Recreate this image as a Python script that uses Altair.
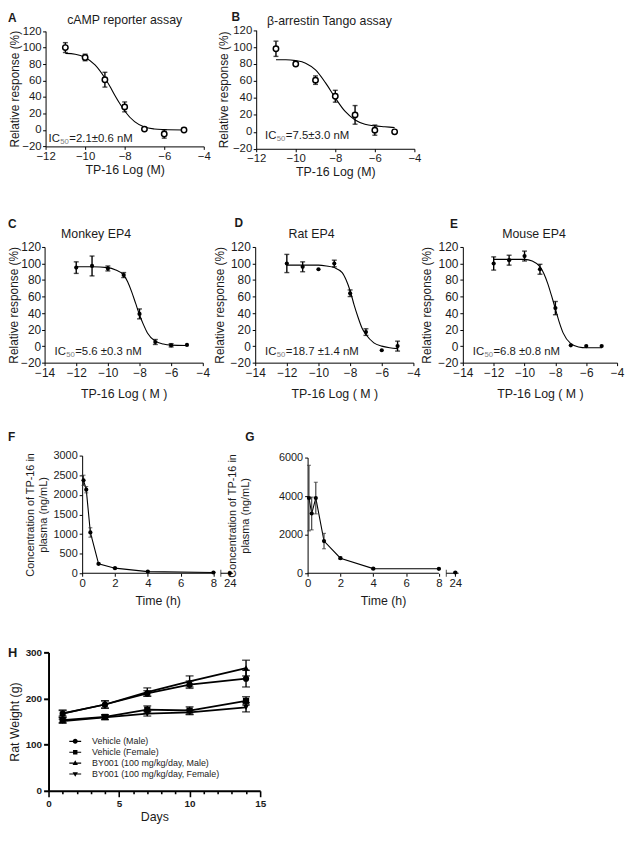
import altair as alt
import pandas as pd

FONT = "Liberation Sans"
INK = "#1b1b1b"

# ---------------- data ----------------
# A: cAMP reporter assay
A_LOG = [-11, -10, -9, -8, -7, -6, -5]
A_RESP = [100, 88, 61, 28, 1, -5, 0]
A_ERR = [6, 4, 9, 6, 1, 5, 1]
A_FIT_LOG = [-11, -10.5, -10, -9.5, -9, -8.75, -8.5, -8.25, -8, -7.5, -7, -6.5, -6, -5]
A_FIT = [93, 92, 88, 79, 63, 53, 42, 32, 23, 10, 3.5, 1.2, 0.5, 0]

# B: beta-arrestin Tango assay
B_LOG = [-11, -10, -9, -8, -7, -6, -5]
B_RESP = [98, 80, 61, 42, 20, 2, 0]
B_ERR = [9, 2, 5, 7, 11, 6, 2]
B_FIT_LOG = [-11, -10.5, -10, -9.5, -9, -8.5, -8, -7.5, -7, -6.5, -6, -5.5, -5]
B_FIT = [85, 85, 84, 81, 73, 58, 40, 24, 14, 9, 7, 6, 5]

# C: Monkey EP4
C_LOG = [-12, -11, -10, -9, -8, -7, -6, -5]
C_RESP = [95, 97, 94, 86, 39, 5, 1, 1.5]
C_ERR = [7, 12, 3, 3, 6, 3, 2, 0]
C_FIT_LOG = [-12, -11, -10, -9.5, -9, -8.75, -8.5, -8.25, -8, -7.75, -7.5, -7, -6.5, -6, -5]
C_FIT = [96, 96, 95, 92, 86, 78, 66, 52, 38, 26, 16, 6, 2.5, 1.2, 0.8]

# D: Rat EP4
D_LOG = [-12, -11, -10, -9, -8, -7, -6, -5]
D_RESP = [100, 96, 93, 100, 64, 17, -5, 0]
D_ERR = [11, 6, 0, 4, 4, 4, 0, 6]
D_FIT_LOG = [-12, -11, -10, -9.5, -9, -8.5, -8.25, -8, -7.75, -7.5, -7.25, -7, -6.5, -6, -5.5, -5]
D_FIT = [98, 98, 98, 97, 95, 89, 80, 67, 50, 35, 22, 14, 4, 0, -2, -3]

# E: Mouse EP4
E_LOG = [-12, -11, -10, -9, -8, -7, -6, -5]
E_RESP = [100, 104, 109, 93, 46, 1, 0, 0]
E_ERR = [8, 6, 6, 6, 8, 0, 0, 0]
E_FIT_LOG = [-12, -11, -10, -9.5, -9, -8.75, -8.5, -8.25, -8, -7.75, -7.5, -7, -6.5, -6, -5]
E_FIT = [105, 105, 105, 103, 96, 88, 76, 61, 45, 29, 16, 3, -1, -2, -2]

# F / G: plasma concentration of TP-16
PK_T = [0.083, 0.25, 0.5, 1, 2, 4, 8, 24]
F_CONC = [2370, 2130, 1040, 240, 130, 42, 20, 5]
F_ERR = [130, 80, 120, 20, 15, 8, 5, 0]
G_CONC = [3900, 3100, 3900, 1670, 780, 240, 230, 40]
G_ERR = [1700, 850, 820, 400, 60, 40, 30, 20]
BREAK_POS = 9.0          # axis position of the 24 h sample (after the axis break)

# H: rat body weight
H_DAYS = [1, 4, 7, 10, 14]
H_SERIES = ["Vehicle (Male)", "Vehicle (Female)",
            "BY001 (100 mg/kg/day, Male)", "BY001 (100 mg/kg/day, Female)"]
H_WEIGHT = [
    [167, 187, 211, 230, 243],
    [153, 160, 176, 174, 195],
    [168, 187, 214, 237, 266],
    [151, 159, 167, 170, 181],
]
H_ERR = [
    [8, 8, 6, 8, 18],
    [6, 5, 8, 8, 9],
    [6, 8, 9, 12, 17],
    [4, 5, 5, 5, 10],
]
H_SHAPES = ["circle", "square", "triangle-up", "triangle-down"]
# legend glyphs: marker with a line through it (all filled sub-paths)
LEGEND_PATHS = [
    "M-1,-0.09H1V0.09H-1ZM-0.42,0A0.42,0.42,0,1,1,0.42,0A0.42,0.42,0,1,1,-0.42,0Z",
    "M-1,-0.09H1V0.09H-1ZM-0.37,-0.37H0.37V0.37H-0.37Z",
    "M-1,-0.09H1V0.09H-1ZM0,-0.48L0.45,0.3H-0.45Z",
    "M-1,-0.09H1V0.09H-1ZM0,0.48L-0.45,-0.3H0.45Z",
]

# ---------------- layout (page pixels) ----------------
OX, OY = 12, 14          # page position of chart origin (8px margin + padding)
W, HC = 620, 818         # chart width / height


def PX(x):
    return x - OX


def PY(y):
    return y - OY


# plot frames: left, right, top, bottom (page coordinates)
FR = {
    "A": (46, 206, 26.7, 143.3),
    "B": (259, 419, 25.7, 145.7),
    "C": (45, 205, 245, 362),
    "D": (258, 418, 245, 362),
    "E": (468, 624, 245, 362),
    "F": (83, 235.7, 456, 575),
    "G": (311, 463.7, 458, 575),
    "H": (49, 263, 655, 795),
}


def xscale(f, dom):
    return alt.Scale(domain=dom, range=[PX(f[0]), PX(f[1])], nice=False, zero=False)


def yscale(f, dom):
    return alt.Scale(domain=dom, range=[PY(f[3]), PY(f[2])], nice=False, zero=False)


def xaxis(f, **kw):
    return alt.Axis(orient="bottom", offset=PY(f[3]) - HC, labelFlush=False, **kw)


def yaxis(f, **kw):
    return alt.Axis(orient="left", offset=-PX(f[0]), **kw)


def label(text, x, y, size, weight="normal", align="left", color=INK,
          baseline="alphabetic"):
    return alt.Chart(pd.DataFrame({"t": [text]})).mark_text(
        font=FONT, fontSize=size, fontWeight=weight, align=align,
        baseline=baseline, color=color
    ).encode(text="t:N", x=alt.value(PX(x)), y=alt.value(PY(y)))


def ic50(value, x, y, size=11.5):
    w_ic = size * 1.0
    sub = size * 0.68
    w_sub = sub * 1.112
    return [
        label("IC", x, y, size),
        label("50", x + w_ic + 0.3, y + 2, sub, color="#808080"),
        label(value, x + w_ic + w_sub + 0.8, y, size),
    ]


def dose_panel(key, log, resp, err, fit_log, fit, *, xmin, open_marker, xtitle,
               xtitle_pad, ytitle_pad, ylabel_pad, xlabel_pad, fs):
    f = FR[key]
    xs = xscale(f, [xmin, -4])
    ys = yscale(f, [-20, 120])
    xa = xaxis(f, values=list(range(xmin, -3, 2)), title=xtitle, labelFontSize=fs,
               titleFontSize=12.5, tickSize=3, labelPadding=xlabel_pad,
               titlePadding=xtitle_pad, format="d")
    ya = yaxis(f, values=list(range(-20, 121, 20)), title="Relative response (%)",
               labelFontSize=fs, titleFontSize=12, tickSize=3, labelPadding=ylabel_pad,
               titlePadding=ytitle_pad, format="d")
    df = pd.DataFrame({"x": log, "y": resp, "e": err})
    df["lo"] = df["y"] - df["e"]
    df["hi"] = df["y"] + df["e"]
    bars = df[df["e"] > 0]
    fitdf = pd.DataFrame({"x": fit_log, "y": fit})
    X = alt.X("x:Q", scale=xs, axis=xa)

    curve = alt.Chart(fitdf).mark_line(
        color="black", strokeWidth=1.1, interpolate="monotone"
    ).encode(x=X, y=alt.Y("y:Q", scale=ys, axis=ya))
    rules = alt.Chart(bars).mark_rule(color="black", strokeWidth=1.4).encode(
        x=X, y=alt.Y("lo:Q", scale=ys, axis=ya), y2="hi:Q")
    caps = alt.Chart(bars).transform_fold(["lo", "hi"], as_=["k", "v"]).mark_tick(
        orient="horizontal", color="black", thickness=1.4, size=5
    ).encode(x=X, y=alt.Y("v:Q", scale=ys, axis=ya))
    if open_marker:
        pts = alt.Chart(df).mark_point(
            shape="circle", filled=True, fill="white", stroke="black",
            strokeWidth=1.5, size=30, opacity=1
        ).encode(x=X, y=alt.Y("y:Q", scale=ys, axis=ya))
    else:
        pts = alt.Chart(df).mark_circle(color="black", size=18, opacity=1).encode(
            x=X, y=alt.Y("y:Q", scale=ys, axis=ya))
    return alt.layer(curve, rules, caps, pts)


def pk_panel(key, conc, err, *, ymax, ystep, ytitle_pad):
    f = FR[key]
    xs = xscale(f, [0, 9.2])
    ys = yscale(f, [0, ymax])
    xa = xaxis(f, values=[0, 2, 4, 6, 8, BREAK_POS],
               labelExpr="datum.value > 8.5 ? '24' : datum.label",
               title="Time (h)", domain=False, labelFontSize=11.5, titleFontSize=12.5,
               tickSize=3, labelPadding=1, titlePadding=6, format="d")
    ya = yaxis(f, values=list(range(0, ymax + 1, ystep)),
               title=["Concentration of TP-16 in", "plasma (ng/mL)"],
               labelFontSize=11, titleFontSize=11, titleLineHeight=13,
               tickSize=3, labelPadding=2, titlePadding=ytitle_pad, format="d")
    df = pd.DataFrame({"t": PK_T, "c": conc, "e": err})
    df["lo"] = df["c"] - df["e"]
    df["hi"] = df["c"] + df["e"]
    X = alt.X("px:Q", scale=xs, axis=xa)
    Yc = alt.Y("c:Q", scale=ys, axis=ya)
    pos = f"datum.t > 8 ? {BREAK_POS} : datum.t"

    segs = pd.DataFrame({"a": [0, 8.45], "b": [8, 9.2]})
    axis_line = alt.Chart(segs).mark_rule(color="black", strokeWidth=1).encode(
        x=alt.X("a:Q", scale=xs, axis=xa), x2="b:Q", y=alt.datum(0))
    brk = alt.Chart(segs.iloc[[1]]).mark_tick(
        orient="vertical", color="black", thickness=1, size=7
    ).encode(x=alt.X("a:Q", scale=xs, axis=xa), y=alt.datum(0))
    line = alt.Chart(df).transform_filter("datum.t <= 8").transform_calculate(
        px=pos).mark_line(color="black", strokeWidth=1.1).encode(x=X, y=Yc)
    bars = df[df["e"] > 0]
    rules = alt.Chart(bars).transform_calculate(px=pos).mark_rule(
        color="#333333", strokeWidth=1.1).encode(
        x=X, y=alt.Y("lo:Q", scale=ys, axis=ya), y2="hi:Q")
    caps = alt.Chart(bars).transform_calculate(px=pos).transform_fold(
        ["lo", "hi"], as_=["k", "v"]).mark_tick(
        orient="horizontal", color="#333333", thickness=1.1, size=4).encode(
        x=X, y=alt.Y("v:Q", scale=ys, axis=ya))
    pts = alt.Chart(df).transform_calculate(px=pos).mark_circle(
        color="black", size=18, opacity=1).encode(x=X, y=Yc)
    return alt.layer(axis_line, brk, line, rules, caps, pts)


def weight_panel():
    f = FR["H"]
    rows = []
    for s, ws, es in zip(H_SERIES, H_WEIGHT, H_ERR):
        for d, w, e in zip(H_DAYS, ws, es):
            rows.append({"day": d, "w": w, "lo": w - e, "hi": w + e, "series": s})
    df = pd.DataFrame(rows)
    xs = xscale(f, [0, 15])
    ys = yscale(f, [0, 300])
    xa = xaxis(f, values=list(range(0, 16)),
               labelExpr="datum.value % 5 === 0 ? datum.label : ''",
               tickSize={"condition": {"test": "datum.value % 5 === 0", "value": 6},
                         "value": 3},
               title="Days", labelFontSize=10, labelFontWeight="bold",
               titleFontSize=12.5, domainWidth=2, tickWidth=1.6, labelPadding=2,
               titlePadding=2, labelOverlap=False, format="d")
    ya = yaxis(f, values=[0, 100, 200, 300], title="Rat Weight (g)",
               labelFontSize=10, labelFontWeight="bold", titleFontSize=12.5,
               domainWidth=2, tickWidth=2, tickSize=5, labelPadding=2,
               titlePadding=4, format="d")
    X = alt.X("day:Q", scale=xs, axis=xa)
    Y = alt.Y("w:Q", scale=ys, axis=ya)
    lines = alt.Chart(df).mark_line(color="black", strokeWidth=1.8).encode(
        x=X, y=Y, detail="series:N")
    rules = alt.Chart(df).mark_rule(color="black", strokeWidth=1.4).encode(
        x=X, y=alt.Y("lo:Q", scale=ys, axis=ya), y2="hi:Q")
    caps = alt.Chart(df).transform_fold(["lo", "hi"], as_=["k", "v"]).mark_tick(
        orient="horizontal", color="black", thickness=1.4, size=8).encode(
        x=X, y=alt.Y("v:Q", scale=ys, axis=ya))
    pts = alt.Chart(df).mark_point(filled=True, color="black", size=40, opacity=1).encode(
        x=X, y=Y,
        shape=alt.Shape("series:N", scale=alt.Scale(domain=H_SERIES, range=H_SHAPES),
                        legend=None))
    leg = alt.Chart(df).mark_point(
        filled=True, color="black", opacity=0
    ).encode(
        x=X, y=Y,
        shape=alt.Shape("series:N", scale=alt.Scale(domain=H_SERIES, range=LEGEND_PATHS),
                        legend=alt.Legend(
                            title=None, orient="none", legendX=PX(70), legendY=PY(739),
                            symbolSize=144, symbolOpacity=1, symbolFillColor="black",
                            symbolStrokeWidth=0,
                            labelFont=FONT, labelFontSize=9, labelColor=INK,
                            labelOffset=11, rowPadding=0, padding=0)))
    return alt.layer(lines, rules, caps, pts, leg).resolve_scale(
        shape="independent").resolve_legend(shape="independent")


# ---------------- panels ----------------
pA = dose_panel("A", A_LOG, A_RESP, A_ERR, A_FIT_LOG, A_FIT, xmin=-12, open_marker=True,
                xtitle="TP-16 Log (M)", xtitle_pad=1.5, ytitle_pad=0, ylabel_pad=1.5,
                xlabel_pad=1, fs=11.5)
pB = dose_panel("B", B_LOG, B_RESP, B_ERR, B_FIT_LOG, B_FIT, xmin=-12, open_marker=True,
                xtitle="TP-16 Log (M)", xtitle_pad=1.5, ytitle_pad=2, ylabel_pad=1.5,
                xlabel_pad=1, fs=11.5)
pC = dose_panel("C", C_LOG, C_RESP, C_ERR, C_FIT_LOG, C_FIT, xmin=-14, open_marker=False,
                xtitle="TP-16 Log ( M )", xtitle_pad=9, ytitle_pad=0, ylabel_pad=1,
                xlabel_pad=2.5, fs=12)
pD = dose_panel("D", D_LOG, D_RESP, D_ERR, D_FIT_LOG, D_FIT, xmin=-14, open_marker=False,
                xtitle="TP-16 Log ( M )", xtitle_pad=9, ytitle_pad=4, ylabel_pad=2,
                xlabel_pad=2.5, fs=12)
pE = dose_panel("E", E_LOG, E_RESP, E_ERR, E_FIT_LOG, E_FIT, xmin=-14, open_marker=False,
                xtitle="TP-16 Log ( M )", xtitle_pad=9, ytitle_pad=4, ylabel_pad=2,
                xlabel_pad=2.5, fs=12)
pF = pk_panel("F", F_CONC, F_ERR, ymax=3000, ystep=500, ytitle_pad=5)
pG = pk_panel("G", G_CONC, G_ERR, ymax=6000, ystep=2000, ytitle_pad=28)
pH = weight_panel()

texts = [
    label("A", 8, 17, 12, weight="bold"),
    label("cAMP reporter assay", 126, 20, 12.5, align="center"),
    label("B", 234, 16.5, 12, weight="bold"),
    label("β-arrestin Tango assay", 333, 21, 12.5, align="center"),
    label("C", 8, 226, 12, weight="bold"),
    label("Monkey EP4", 97, 236, 12.5, align="center"),
    label("D", 237, 225, 12, weight="bold"),
    label("Rat EP4", 315, 236, 12.5, align="center"),
    label("E", 455, 226, 12, weight="bold"),
    label("Mouse EP4", 540, 236, 12.5, align="center"),
    label("F", 8, 441, 12, weight="bold"),
    label("G", 248, 441, 12, weight="bold"),
    label("H", 8, 660, 13, weight="bold"),
]
texts += ic50("=2.1±0.6 nM", 49, 139)
texts += ic50("=7.5±3.0 nM", 268, 136)
texts += ic50("=5.6 ±0.3 nM", 55, 354)
texts += ic50("=18.7 ±1.4 nM", 268, 354)
texts += ic50("=6.8 ±0.8 nM", 478, 354)

chart = alt.layer(pA, pB, pC, pD, pE, pF, pG, pH, *texts).resolve_scale(
    x="independent", y="independent"
).resolve_axis(
    x="independent", y="independent"
).properties(
    width=W, height=HC,
    autosize=alt.AutoSizeParams(type="none"),
    padding={"left": 4, "top": 6, "right": 0, "bottom": 0},
).configure_view(stroke=None).configure_axis(
    labelFont=FONT, titleFont=FONT, labelColor=INK, titleColor=INK,
    domainColor="black", tickColor="black", titleFontWeight="normal", grid=False,
)

chart.save("out.html", embed_options={"renderer": "svg", "actions": False})
